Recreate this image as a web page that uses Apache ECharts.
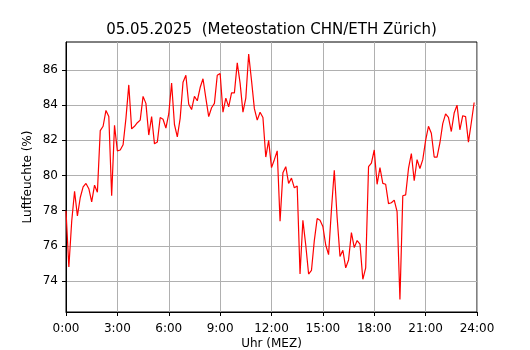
<!DOCTYPE html>
<html>
<head>
<meta charset="utf-8">
<script src="https://cdn.jsdelivr.net/npm/echarts@6/dist/echarts.min.js"></script>
<style>
html,body{margin:0;padding:0;background:#fff;}
#chart{width:530px;height:350px;}
</style>
</head>
<body>
<div id="chart"></div>
<script>
// Relative humidity (%) every 10 minutes, 0:00 .. 23:50
var humidity = [
78.0, 74.8, 77.4, 79.1, 77.7, 78.75, 79.35, 79.55, 79.25, 78.5, 79.45, 79.05,
82.55, 82.8, 83.7, 83.35, 78.85, 82.85, 81.4, 81.45, 81.75, 83.25, 85.15, 82.65,
82.8, 83.0, 83.15, 84.5, 84.1, 82.3, 83.35, 81.8, 81.9, 83.3, 83.2, 82.7,
83.5, 85.25, 82.9, 82.2, 83.25, 85.3, 85.7, 84.05, 83.75, 84.5, 84.25, 85.0,
85.5, 84.4, 83.35, 83.85, 84.1, 85.7, 85.8, 83.6, 84.4, 83.9, 84.7, 84.7,
86.4, 85.25, 83.6, 84.4, 86.9, 85.4, 83.8, 83.15, 83.6, 83.3, 81.05, 82.0,
80.45, 80.9, 81.4, 77.4, 80.15, 80.5, 79.55, 79.85, 79.3, 79.4, 74.4, 77.45,
76.05, 74.4, 74.6, 76.3, 77.55, 77.45, 77.1, 76.05, 75.5, 78.05, 80.3, 77.6,
75.4, 75.75, 74.75, 75.2, 76.75, 75.9, 76.3, 76.1, 74.1, 74.75, 80.5, 80.7,
81.45, 79.5, 80.45, 79.55, 79.5, 78.4, 78.45, 78.6, 77.95, 72.95, 78.85, 78.9,
80.4, 81.25, 79.7, 80.9, 80.4, 80.9, 82.0, 82.8, 82.4, 81.05, 81.05, 81.85,
82.95, 83.5, 83.3, 82.5, 83.55, 84.0, 82.6, 83.4, 83.35, 81.9, 83.0, 84.15
];
var stepMinutes = 10;
var xTickHours = [0, 3, 6, 9, 12, 15, 18, 21, 24];
var yTicks = [74, 76, 78, 80, 82, 84, 86];
var titleText = '05.05.2025  (Meteostation CHN/ETH Zürich)';
var xName = 'Uhr (MEZ)';
var yName = 'Luftfeuchte (%)';

var seriesData = humidity.map(function (v, i) { return [i * stepMinutes / 60, v]; });

var FONT = 'DejaVu Sans';
var chart = echarts.init(document.getElementById('chart'), null, {renderer: 'canvas'});
chart.setOption({
  animation: false,
  backgroundColor: '#ffffff',
  title: {
    text: titleText,
    left: 271.5,
    textAlign: 'center',
    top: 23,
    padding: 0,
    textStyle: {fontFamily: FONT, fontSize: 15, fontWeight: 'normal', color: '#000'}
  },
  grid: {left: 66, right: 53, top: 42, bottom: 38, show: true, borderColor: '#000', borderWidth: 1,
         containLabel: false, outerBoundsMode: 'none'},
  xAxis: {
    type: 'value',
    min: 0, max: 24, interval: 3,
    name: xName,
    nameLocation: 'middle',
    nameGap: 26,
    nameMoveOverlap: false,
    nameTextStyle: {fontFamily: FONT, fontSize: 12, color: '#000'},
    axisLine: {show: true, lineStyle: {color: '#000', width: 1}},
    axisTick: {show: true, inside: false, length: 4, lineStyle: {color: '#000'}, customValues: xTickHours},
    axisLabel: {
      fontFamily: FONT, fontSize: 12, color: '#000', margin: 11,
      customValues: xTickHours,
      formatter: function (v) { return v + ':00'; }
    },
    splitLine: {show: true, lineStyle: {color: '#b0b0b0', width: 1}}
  },
  yAxis: {
    type: 'value',
    min: 72.24, max: 87.59,
    splitNumber: 7,
    name: yName,
    nameLocation: 'middle',
    nameGap: 32,
    nameRotate: 90,
    nameMoveOverlap: false,
    nameTextStyle: {fontFamily: FONT, fontSize: 12, color: '#000'},
    axisLine: {show: true, lineStyle: {color: '#000', width: 1}},
    axisTick: {show: true, inside: false, length: 4, lineStyle: {color: '#000'}, customValues: yTicks},
    axisLabel: {
      fontFamily: FONT, fontSize: 12, color: '#000', margin: 8,
      customValues: yTicks,
      formatter: function (v) { return String(v); }
    },
    splitLine: {show: true, lineStyle: {color: '#b0b0b0', width: 1}}
  },
  series: [{
    type: 'line',
    data: seriesData,
    showSymbol: false,
    symbol: 'none',
    lineStyle: {color: '#ff0000', width: 1.2},
    itemStyle: {color: '#ff0000'}
  }]
});
</script>
</body>
</html>
